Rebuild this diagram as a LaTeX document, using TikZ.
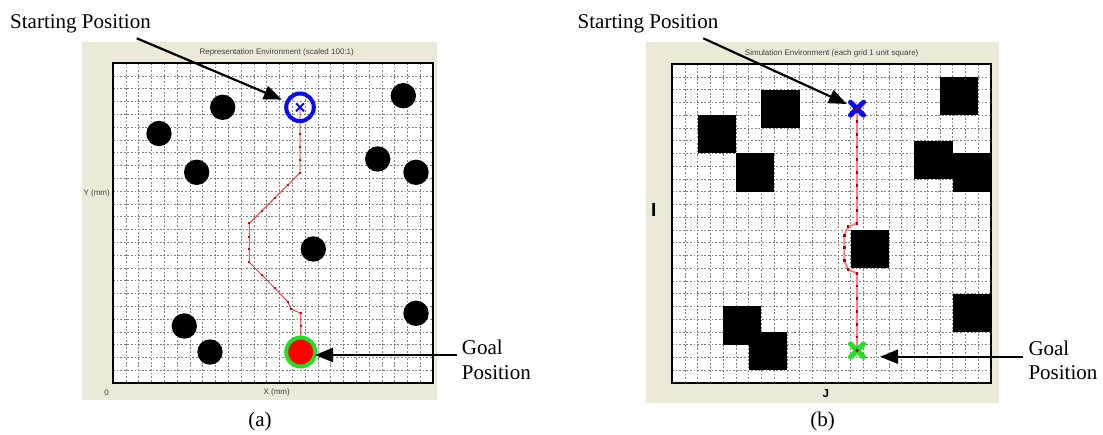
\documentclass[tikz,border=0pt]{standalone}
\usepackage{fontspec}
\setmainfont{Liberation Serif}
\newfontfamily\guifont{Liberation Sans}
\usetikzlibrary{arrows.meta}
\definecolor{xpbeige}{HTML}{ECE9D8}
\definecolor{mkblue}{HTML}{0A0AF0}
\definecolor{mkgreen}{HTML}{22E022}
\definecolor{pathpink}{HTML}{FF7C7C}
\definecolor{dotred}{HTML}{B00000}
\begin{document}
\begin{tikzpicture}[x=1pt,y=-1pt,
  gridln/.style={black!50, line width=0.5pt, dash pattern=on 1.8pt off 1.8pt},
  framebox/.style={line width=2pt, draw=black},
  biglabel/.style={font=\fontsize{21}{25}\selectfont, inner sep=0pt},
  gui/.style={font=\guifont\fontsize{8}{9.6}\selectfont, text=black!75, inner sep=0pt},
  axisbold/.style={font=\guifont\bfseries\fontsize{11.5}{13}\selectfont, inner sep=0pt},
  tallbold/.style={font=\guifont\bfseries\fontsize{19}{21}\selectfont, inner sep=0pt},
  pointer/.style={line width=2.2pt, -{Triangle[length=18pt,width=14pt]}},
  obst/.style={fill=black},
  reddot/.style={fill=red!85!black},
  ]
\useasboundingbox (0,0) rectangle (1103,434);

% ================= Panel (a) =================
\fill[xpbeige] (82,42) rectangle (437,400);
\begin{scope}[shift={(113,63)}, x=12.8pt, y=-12.8pt]
  \fill[white] (0,0) rectangle (25,25);
  \foreach \i in {1,...,24} {
    \draw[gridln] (\i,0) -- (\i,25);
    \draw[gridln] (0,\i) -- (25,\i);
  }
  \draw[framebox] (0,0) rectangle (25,25);
\end{scope}
\foreach \p in {{222.7,107.3},{403.3,95.7},{159,133.5},{196.7,172.3},{377.7,159},{416,172.3},{313.3,249},{416,313.3},{184.3,326},{210,352}}
  \fill[obst] (\p) circle[radius=12.7pt];
% path
\draw[red, line width=0.7pt] (300,107.3) -- (300,172.7) -- (249.3,223.3) -- (249.3,262.3) -- (275,288.3) -- (287.7,301.7) -- (291,309) -- (300.7,313.3) -- (300.7,352);
\foreach \p in {{300,120.5},{300,133.5},{300,146.7},{300,160},{300,172.7},{287.7,185},{275,198.3},{262,211},{249.3,223.3},{249.3,236.7},{249.3,249.3},{249.3,262.3},{262,275},{275,288.3},{287.7,301.7},{291,309},{300.7,313.3},{300.7,326},{300.7,339}}
  \fill[reddot] (\p) ++(-1pt,-1pt) rectangle ++(2pt,2pt);
% markers
\node[circle, draw=mkblue, line width=4pt, minimum size=27.6pt, inner sep=0pt] (startA) at (300,107.3) {};
\draw[mkblue, line width=2pt] ([shift={(-4pt,-4pt)}]startA.center) -- ([shift={(4pt,4pt)}]startA.center)
  ([shift={(-4pt,4pt)}]startA.center) -- ([shift={(4pt,-4pt)}]startA.center);
\node[circle, fill=red, draw=mkgreen, line width=4pt, minimum size=29pt, inner sep=0pt] (goalA) at (300.7,352) {};
% gui texts
\node[gui] (titleA) at (276.7,52.7) {Representation Environment (scaled 100:1)};
\node[gui] (ylabA) at (96.7,193.3) {Y (mm)};
\node[gui] (xlabA) at (276.7,392.7) {X (mm)};
\node[gui] (zeroA) at (106.7,392.7) {0};
% labels and pointers
\node[biglabel, anchor=base] (startLblA) at (80.5,28.3) {Starting Position};
\coordinate (startTailA) at (136.7,38.3);
\draw[pointer, shorten >=4pt] (startTailA) -- (startA);
\node[biglabel, anchor=base west] (goalLblA1) at (461.7,354) {Goal};
\node[biglabel, anchor=base west] (goalLblA2) at (461.7,379) {Position};
\coordinate (goalTailA) at (456.7,355);
\coordinate (goalTipA) at (315,355);
\draw[pointer] (goalTailA) -- (goalTipA);
\node[biglabel, anchor=base] (capA) at (260,426) {(a)};

% ================= Panel (b) =================
\fill[xpbeige] (646,42) rectangle (999,403);
\begin{scope}[shift={(672,64)}, x=12.76pt, y=-12.76pt]
  \fill[white] (0,0) rectangle (25,25);
  \foreach \i in {1,...,24} {
    \draw[gridln] (\i,0) -- (\i,25);
    \draw[gridln] (0,\i) -- (25,\i);
  }
  \foreach \a/\b in {7/2, 21/1, 2/4, 5/7, 19/6, 22/7, 14/13, 4/19, 6/21, 22/18}
    \fill[obst] (\a,\b) rectangle ++(3,3);
  \draw[framebox] (0,0) rectangle (25,25);
  % path
  \draw[pathpink, line width=1.8pt, rounded corners=2pt] (14.5,3.5) -- (14.5,12.5) -- (13.8,12.75) -- (13.5,13.45) -- (13.5,15.4) -- (13.8,16.1) -- (14.5,16.4) -- (14.5,22.5);
  \foreach \p in {{14.5,4.5},{14.5,5.5},{14.5,6.5},{14.5,7.5},{14.5,8.5},{14.5,9.5},{14.5,10.5},{14.5,11.5},{14.5,12.5},{13.8,12.75},{13.5,13.45},{13.5,14.4},{13.5,15.4},{13.8,16.1},{14.5,16.4},{14.5,17.4},{14.5,18.4},{14.5,19.4},{14.5,20.4},{14.5,21.4}}
    \fill[dotred] (\p) ++(-1.4pt,-1.4pt) rectangle ++(2.8pt,2.8pt);
  \node[circle, minimum size=22pt, inner sep=0pt] (startB) at (14.5,3.5) {};
  \node[circle, minimum size=22pt, inner sep=0pt] (goalB) at (14.5,22.45) {};
\end{scope}
\fill[mkblue] ([shift={(-4pt,-4pt)}]startB.center) rectangle ([shift={(4pt,4pt)}]startB.center);
\draw[mkblue, line width=5pt, line cap=round] ([shift={(-6.5pt,-6.5pt)}]startB.center) -- ([shift={(6.5pt,6.5pt)}]startB.center)
  ([shift={(-6.5pt,6.5pt)}]startB.center) -- ([shift={(6.5pt,-6.5pt)}]startB.center);
\fill[dotred] (startB.center) circle[radius=1.8pt];
\fill[mkgreen] ([shift={(-4pt,-4pt)}]goalB.center) rectangle ([shift={(4pt,4pt)}]goalB.center);
\draw[mkgreen, line width=5pt, line cap=round] ([shift={(-6.5pt,-6.5pt)}]goalB.center) -- ([shift={(6.5pt,6.5pt)}]goalB.center)
  ([shift={(-6.5pt,6.5pt)}]goalB.center) -- ([shift={(6.5pt,-6.5pt)}]goalB.center);
\fill[dotred] (goalB.center) circle[radius=1.8pt];
% gui texts
\node[gui] (titleB) at (831.7,53.3) {Simulation Environment (each grid 1 unit square)};
\node[tallbold] (ilabB) at (653.7,210) {I};
\node[axisbold] (jlabB) at (825.7,394) {J};
% labels and pointers
\node[biglabel, anchor=base] (startLblB) at (648,28.3) {Starting Position};
\coordinate (startTailB) at (703.3,38.3);
\draw[pointer] (startTailB) -- (startB);
\node[biglabel, anchor=base west] (goalLblB1) at (1028.3,355) {Goal};
\node[biglabel, anchor=base west] (goalLblB2) at (1028.3,379) {Position};
\coordinate (goalTailB) at (1023.3,356.7);
\coordinate (goalTipB) at (880,356.7);
\draw[pointer] (goalTailB) -- (goalTipB);
\node[biglabel, anchor=base] (capB) at (822.7,426) {(b)};
\end{tikzpicture}
\end{document}
